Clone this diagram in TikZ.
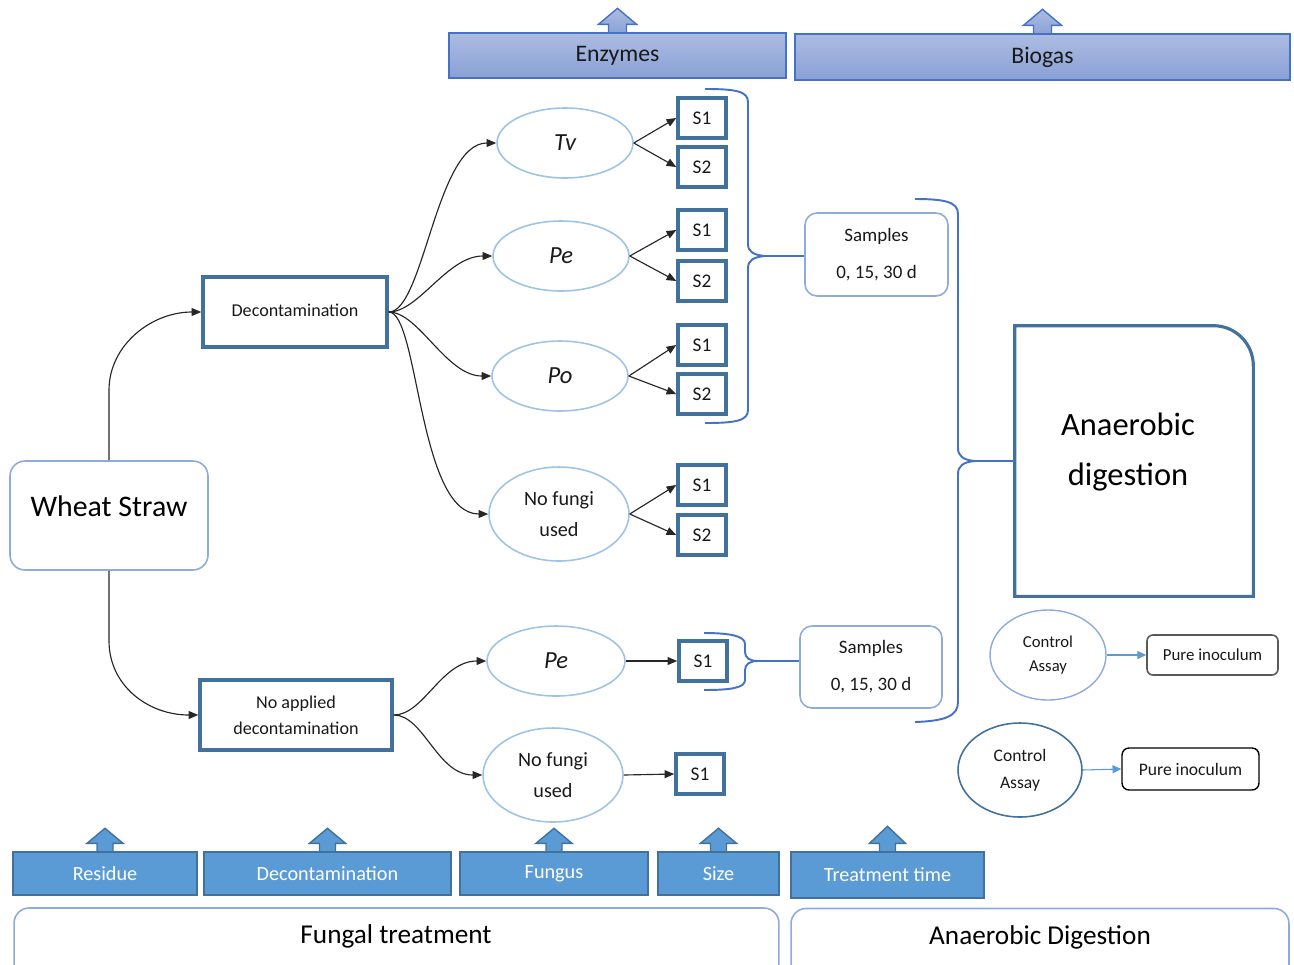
\documentclass[tikz,border=0pt]{standalone}
\usepackage{fontspec}
\setmainfont{Carlito}
\usetikzlibrary{arrows.meta,calc,shapes.geometric,backgrounds}
\definecolor{dkb}{RGB}{65,113,156}
\definecolor{ltb}{RGB}{157,195,230}
\definecolor{brb}{RGB}{68,114,196}
\definecolor{smb}{RGB}{143,170,220}
\definecolor{midb}{RGB}{91,155,213}
\definecolor{topfa}{RGB}{172,188,226}
\definecolor{topfb}{RGB}{138,160,213}
\definecolor{txt}{RGB}{25,25,25}
\newcommand\blkarr[6]{\path[#2] ($(#1.north)+(-#6,2)$) -- ($(#1.north)+(-#6,-#4)$) -- ($(#1.north)+(-#5,-#4)$) -- ($(#1.north)+(0,-#3)$) -- ($(#1.north)+(#5,-#4)$) -- ($(#1.north)+(#6,-#4)$) -- ($(#1.north)+(#6,2)$);}
\begin{document}
\begin{tikzpicture}[x=0.02cm,y=-0.02cm,
  every node/.style={text=txt, inner sep=0pt},
  fs/.style n args={2}{font=\fontsize{#1}{#2}\selectfont},
  sbox/.style={draw=dkb, line width=2pt, minimum width=0.96cm, minimum height=0.8cm, fs={11}{12}},
  dkbox/.style={draw=dkb, line width=2pt, align=center},
  oval/.style={ellipse, draw=ltb, line width=0.9pt, minimum width=2.72cm, minimum height=1.4cm},
  nfoval/.style={oval, minimum width=2.8cm, minimum height=1.88cm, align=center, fs={11.5}{17.6}},
  smpbox/.style={draw=smb, line width=0.9pt, rounded corners=0.24cm, align=center, fs={10.8}{21}},
  conn/.style={draw=black!85, line width=0.65pt, -{Triangle[length=5.5pt,width=4.5pt]}},
  lconn/.style={draw=midb, line width=0.6pt, -{Triangle[length=5pt,width=4.5pt]}},
  brace/.style={draw=brb, line width=1.1pt},
  tban/.style={top color=topfa, bottom color=topfb, draw=brb, line width=0.8pt, fs={13.5}{15}},
  tarr/.style={top color=topfa, bottom color=topfb, draw=brb, line width=0.8pt},
  bban/.style={fill=midb, draw=dkb, line width=0.8pt, text=white, fs={11.5}{13}, minimum height=0.86cm},
  barr/.style={fill=midb, draw=dkb, line width=0.8pt},
  bigbox/.style={draw=smb, line width=0.9pt, rounded corners=0.3cm, minimum height=1.44cm}
]
\useasboundingbox (0,0) rectangle (1294,964);
\clip (0,0) rectangle (1294,964);

% top banners
\node[tban, minimum width=6.74cm, minimum height=0.9cm] (enz) at (617.5,55.5) {\raisebox{-1.5pt}{Enzymes}};
\node[tban, minimum width=9.9cm, minimum height=0.92cm] (bio) at (1042.5,57) {Biogas};

% bottom banners
\node[bban, minimum width=3.68cm] (res) at (105,873.5) {Residue};
\node[bban, minimum width=4.94cm] (decb) at (327.5,873.5) {Decontamination};
\node[bban, minimum width=3.76cm] (fun) at (554,873.5) {Fungus};
\node[bban, minimum width=2.42cm] (sz) at (718.5,873.5) {Size};
\node[bban, minimum width=3.86cm, minimum height=0.92cm] (tt) at (887.5,875) {Treatment time};

\begin{pgfonlayer}{background}
\blkarr{enz}{tarr}{24}{8}{19}{9}
\blkarr{bio}{tarr}{24}{8}{19}{9}
\blkarr{res}{barr}{23}{8}{18}{8}
\blkarr{decb}{barr}{23}{8}{18}{8}
\blkarr{fun}{barr}{23}{8}{18}{8}
\blkarr{sz}{barr}{23}{8}{18}{8}
\blkarr{tt}{barr}{25}{8}{18}{8}
\end{pgfonlayer}

% big bottom boxes
\node[bigbox, minimum width=15.3cm] (ftb) at (396.5,944) {};
\node[fs={15.5}{18}, text=black] (ftt) at (396,936) {Fungal treatment};
\node[bigbox, minimum width=9.96cm] (adb) at (1040,944.5) {};
\node[fs={15.5}{18}, text=black] (adbt) at (1040,937) {Anaerobic Digestion};

% wheat straw
\node[draw=smb, line width=0.9pt, rounded corners=0.3cm, minimum width=3.96cm, minimum height=2.18cm] (ws) at (109,515.5) {};
\node[fs={17}{20}, text=black] (wst) at (109,506) {Wheat Straw};

% decontamination boxes
\node[dkbox, minimum width=3.68cm, minimum height=1.4cm, fs={10.3}{12}] (dec) at (295,312) {\raisebox{2pt}{Decontamination}};
\node[dkbox, minimum width=3.84cm, minimum height=1.4cm, fs={10.3}{14.7}] (noap) at (296,715) {No applied\\decontamination};

% ellipses
\node[oval, font=\fontsize{14}{16}\selectfont\itshape] (tv) at (565,143) {Tv};
\node[oval, font=\fontsize{14}{16}\selectfont\itshape] (pe) at (561,256) {Pe};
\node[oval, font=\fontsize{14}{16}\selectfont\itshape] (po) at (560,376) {Po};
\node[nfoval] (nf) at (559,514) {No fungi\\used};
\node[oval, minimum width=2.76cm, font=\fontsize{14}{16}\selectfont\itshape] (pe2) at (556,661) {Pe};
\node[nfoval] (nf2) at (553,775) {No fungi\\used};

% S boxes
\node[sbox] (tvs1) at (702,118) {S1};
\node[sbox] (tvs2) at (702,167) {S2};
\node[sbox] (pes1) at (702,230) {S1};
\node[sbox] (pes2) at (702,281) {S2};
\node[sbox] (pos1) at (702,345) {S1};
\node[sbox] (pos2) at (702,394) {S2};
\node[sbox] (nfs1) at (702,485) {S1};
\node[sbox] (nfs2) at (702,535) {S2};
\node[sbox] (pe2s1) at (703,661) {S1};
\node[sbox] (nf2s1) at (700,774) {S1};

% samples
\node[smpbox, minimum width=2.86cm, minimum height=1.66cm] (samp1) at (876.5,254.5) {Samples\\0, 15, 30 d};
\node[smpbox, minimum width=2.84cm, minimum height=1.64cm] (samp2) at (871,667) {Samples\\0, 15, 30 d};

% anaerobic digestion
\node[minimum width=4.76cm, minimum height=5.4cm] (ad) at (1134,461) {};
\draw[draw=dkb, line width=1.8pt, line join=miter] (ad.south east) -- (ad.south west) -- (ad.north west) -- ($(ad.north east)+(-40,0)$) arc[start angle=90, end angle=0, radius=0.8cm] -- cycle;
\node[fs={18.5}{29}, align=center, text=black] (adt) at (1128,452) {Anaerobic\\digestion};

% control assays
\node[ellipse, draw=smb, line width=0.8pt, minimum width=2.32cm, minimum height=1.8cm, align=center, fs={9.5}{13.6}] (ca1) at (1048,655) {Control\\Assay};
\node[draw=black!65, line width=0.9pt, rounded corners=0.12cm, minimum width=2.62cm, minimum height=0.8cm, fs={9.6}{11}] (pi1) at (1212.5,655) {Pure inoculum};
\node[ellipse, draw=dkb, line width=0.9pt, minimum width=2.48cm, minimum height=1.88cm, align=center, fs={10}{15.3}] (ca2) at (1020,770) {Control\\Assay};
\node[draw=black, line width=0.8pt, rounded corners=0.14cm, minimum width=2.74cm, minimum height=0.84cm, fs={10}{12}] (pi2) at (1190.5,769) {Pure inoculum};
\draw[lconn] (ca1.east) -- (pi1.west);
\draw[lconn] (ca2.east) -- (pi2.west);

% connectors
\draw[conn] (ws.north) -- ++(0,-70) .. controls +(0,-45) and +(-50,0) .. (dec.west);
\draw[conn] (ws.south) -- ++(0,70) .. controls +(0,45) and +(-50,0) .. (noap.west);
\draw[conn] (dec.east) .. controls +(35,0) and +(-60,0) .. (tv.west);
\draw[conn] (dec.east) .. controls +(30,0) and +(-45,0) .. (pe.west);
\draw[conn] (dec.east) .. controls +(30,0) and +(-45,0) .. (po.west);
\draw[conn] (dec.east) .. controls +(30,0) and +(-70,0) .. (nf.west);
\draw[conn] (noap.east) .. controls +(30,0) and +(-45,0) .. (pe2.west);
\draw[conn] (noap.east) .. controls +(30,0) and +(-45,0) .. (nf2.west);

\draw[conn] (tv.east) -- (tvs1.west);
\draw[conn] (tv.east) -- (tvs2.west);
\draw[conn] (pe.east) -- (pes1.west);
\draw[conn] (pe.east) -- (pes2.west);
\draw[conn] (po.east) -- (pos1.west);
\draw[conn] (po.east) -- (pos2.west);
\draw[conn] (nf.east) -- (nfs1.west);
\draw[conn] (nf.east) -- (nfs2.west);
\draw[conn] (pe2.east) -- (pe2s1.west);
\draw[conn] (nf2.east) -- (nf2s1.west);

% braces
\draw[brace] (705,89) .. controls (735,89) and (748,91) .. (748,102) -- (748,244) .. controls (748,252) and (754,255) .. (765,256) coordinate (b1tip) .. controls (754,257) and (748,260) .. (748,268) -- (748,410) .. controls (748,421) and (735,423) .. (705,423);
\draw[brace] (b1tip) -- (b1tip -| samp1.west);
\draw[brace] (915,199) .. controls (945,199) and (958,202) .. (958,214) -- (958,448) .. controls (958,456) and (963,460) .. (975,461) coordinate (b2tip) .. controls (963,462) and (958,466) .. (958,474) -- (958,702) .. controls (958,716) and (945,721) .. (915,722);
\draw[brace] (b2tip) -- (b2tip -| ad.west);
\draw[brace] (704,633) .. controls (730,633) and (745,636) .. (745,644) -- (745,652) .. controls (745,658) and (750,661) .. (758,661) coordinate (b3tip) .. controls (750,661) and (745,664) .. (745,670) -- (745,680) .. controls (745,688) and (730,690) .. (704,690);
\draw[brace] (b3tip) -- (b3tip -| samp2.west);
\end{tikzpicture}
\end{document}
